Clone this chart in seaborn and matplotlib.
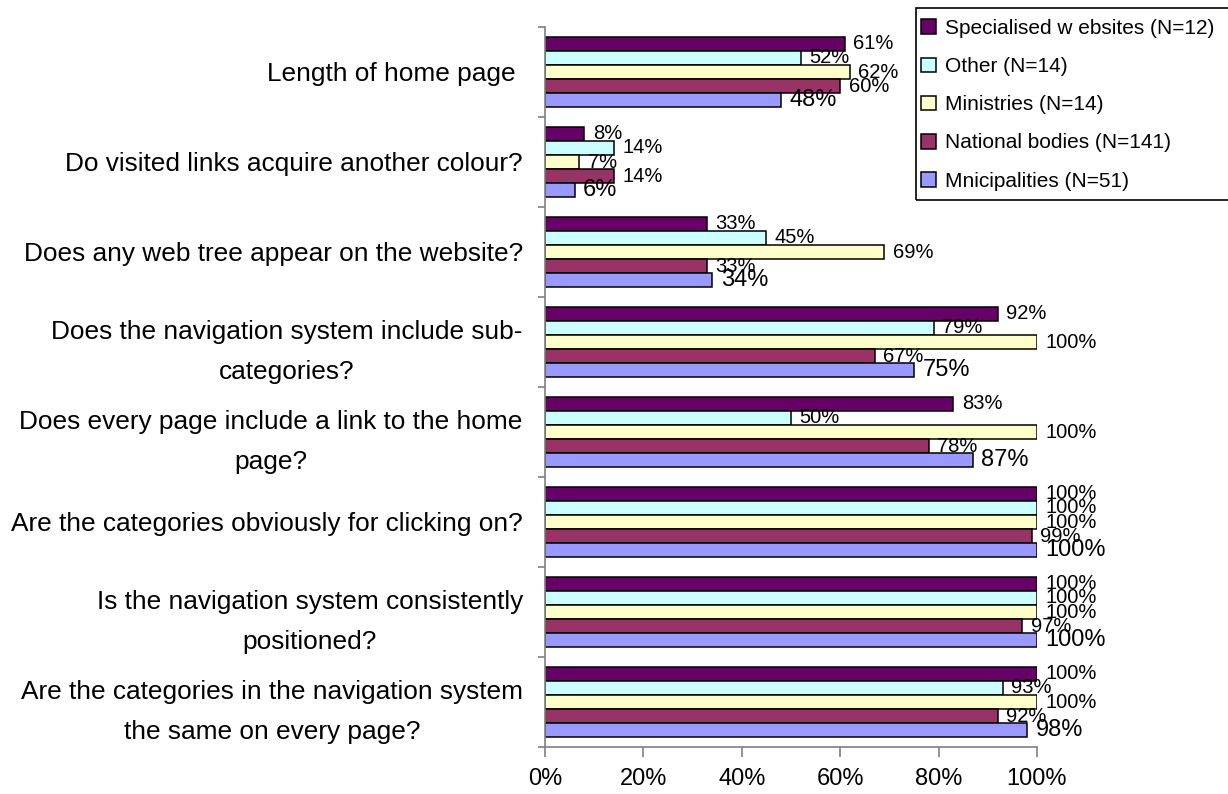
import numpy as np
import pandas as pd
import seaborn as sns
import matplotlib.pyplot as plt
from matplotlib.patches import Patch, Rectangle
from matplotlib.ticker import FixedLocator, FuncFormatter

# Survey questions (y categories), top to bottom
questions = [
    "Length of home page ",
    "Do visited links acquire another colour?",
    "Does any web tree appear on the website?",
    "Does the navigation system include sub-\ncategories?",
    "Does every page include a link to the home\npage?",
    "Are the categories obviously for clicking on?",
    "Is the navigation system consistently\npositioned?",
    "Are the categories in the navigation system\nthe same on every page?",
]

# Website groups (hue levels)
groups = [
    "Specialised w ebsites (N=12)",
    "Other (N=14)",
    "Ministries (N=14)",
    "National bodies (N=141)",
    "Mnicipalities (N=51)",
]

# Share of websites answering "yes" (%)
specialised = [61, 8, 33, 92, 83, 100, 100, 100]
other = [52, 14, 45, 79, 50, 100, 100, 93]
ministries = [62, 7, 69, 100, 100, 100, 100, 100]
national = [60, 14, 33, 67, 78, 99, 97, 92]
municipalities = [48, 6, 34, 75, 87, 100, 100, 98]

xticks = [0, 20, 40, 60, 80, 100]

colors = ["#660066", "#CCFFFF", "#FFFFCC", "#993366", "#9999FF"]

series = [specialised, other, ministries, national, municipalities]
df = pd.DataFrame(
    [
        {"question": q, "group": g, "value": v}
        for g, vals in zip(groups, series)
        for q, v in zip(questions, vals)
    ]
)

sns.set_theme(style="white")
plt.rcParams["font.family"] = ["Liberation Sans", "DejaVu Sans"]
plt.rcParams["text.color"] = "black"
plt.rcParams["axes.labelcolor"] = "black"
plt.rcParams["xtick.labelcolor"] = "black"
plt.rcParams["ytick.labelcolor"] = "black"

fig = plt.figure(figsize=(12.28, 7.94), dpi=100)
ax = fig.add_axes([545 / 1228, 47 / 794, 492 / 1228, 720 / 794])

sns.barplot(
    data=df,
    y="question",
    x="value",
    hue="group",
    order=questions,
    hue_order=groups,
    palette=colors,
    saturation=1,
    orient="h",
    width=0.78,
    edgecolor="black",
    linewidth=1.1,
    legend=False,
    ax=ax,
)

# Value labels at the end of each bar; the last series uses a larger font
for i, (container, vals) in enumerate(zip(ax.containers, series)):
    size = 17 if i == len(series) - 1 else 14.5
    ax.bar_label(
        container,
        labels=[f"{v}%" for v in vals],
        padding=6,
        fontsize=size,
        color="black",
        zorder=5,
    )

ax.set_xlim(0, 100)
ax.set_ylim(len(questions) - 0.5, -0.5)
ax.set_xticks(xticks)
ax.xaxis.set_major_formatter(FuncFormatter(lambda v, p: f"{v:.0f}%"))
ax.yaxis.set_minor_locator(FixedLocator(np.arange(-0.5, len(questions), 1.0)))

ax.set_xlabel("")
ax.set_ylabel("")

for side in ["top", "right"]:
    ax.spines[side].set_visible(False)
for side in ["left", "bottom"]:
    ax.spines[side].set_color("#808080")
    ax.spines[side].set_linewidth(1.2)

ax.tick_params(axis="x", which="major", direction="out", length=7, width=1.2,
               color="#808080", labelcolor="black", labelsize=17, pad=8,
               bottom=True)
ax.tick_params(axis="y", which="major", length=0, labelsize=18.9, pad=16,
               labelcolor="black")
ax.tick_params(axis="y", which="minor", direction="out", length=5, width=1.2,
               color="#808080", left=True)

for lbl in ax.get_yticklabels():
    lbl.set_multialignment("center")
    lbl.set_linespacing(1.8)

# Legend with a frame that runs off the right edge
handles = [Patch(facecolor=c, edgecolor="black", linewidth=1.1) for c in colors]
fig.legend(
    handles,
    groups,
    loc="upper left",
    bbox_to_anchor=(921 / 1228, 1 - 19 / 794),
    frameon=False,
    fontsize=15,
    handlelength=0.7,
    handleheight=0.7,
    handletextpad=0.45,
    labelspacing=0.92,
    borderpad=0,
    borderaxespad=0,
)
fig.add_artist(
    Rectangle(
        (916 / 1228, 1 - 200 / 794),
        (1260 - 916) / 1228,
        192 / 794,
        transform=fig.transFigure,
        fill=False,
        edgecolor="black",
        linewidth=1.2,
        clip_on=False,
    )
)

fig.savefig("out.png", dpi=100)
